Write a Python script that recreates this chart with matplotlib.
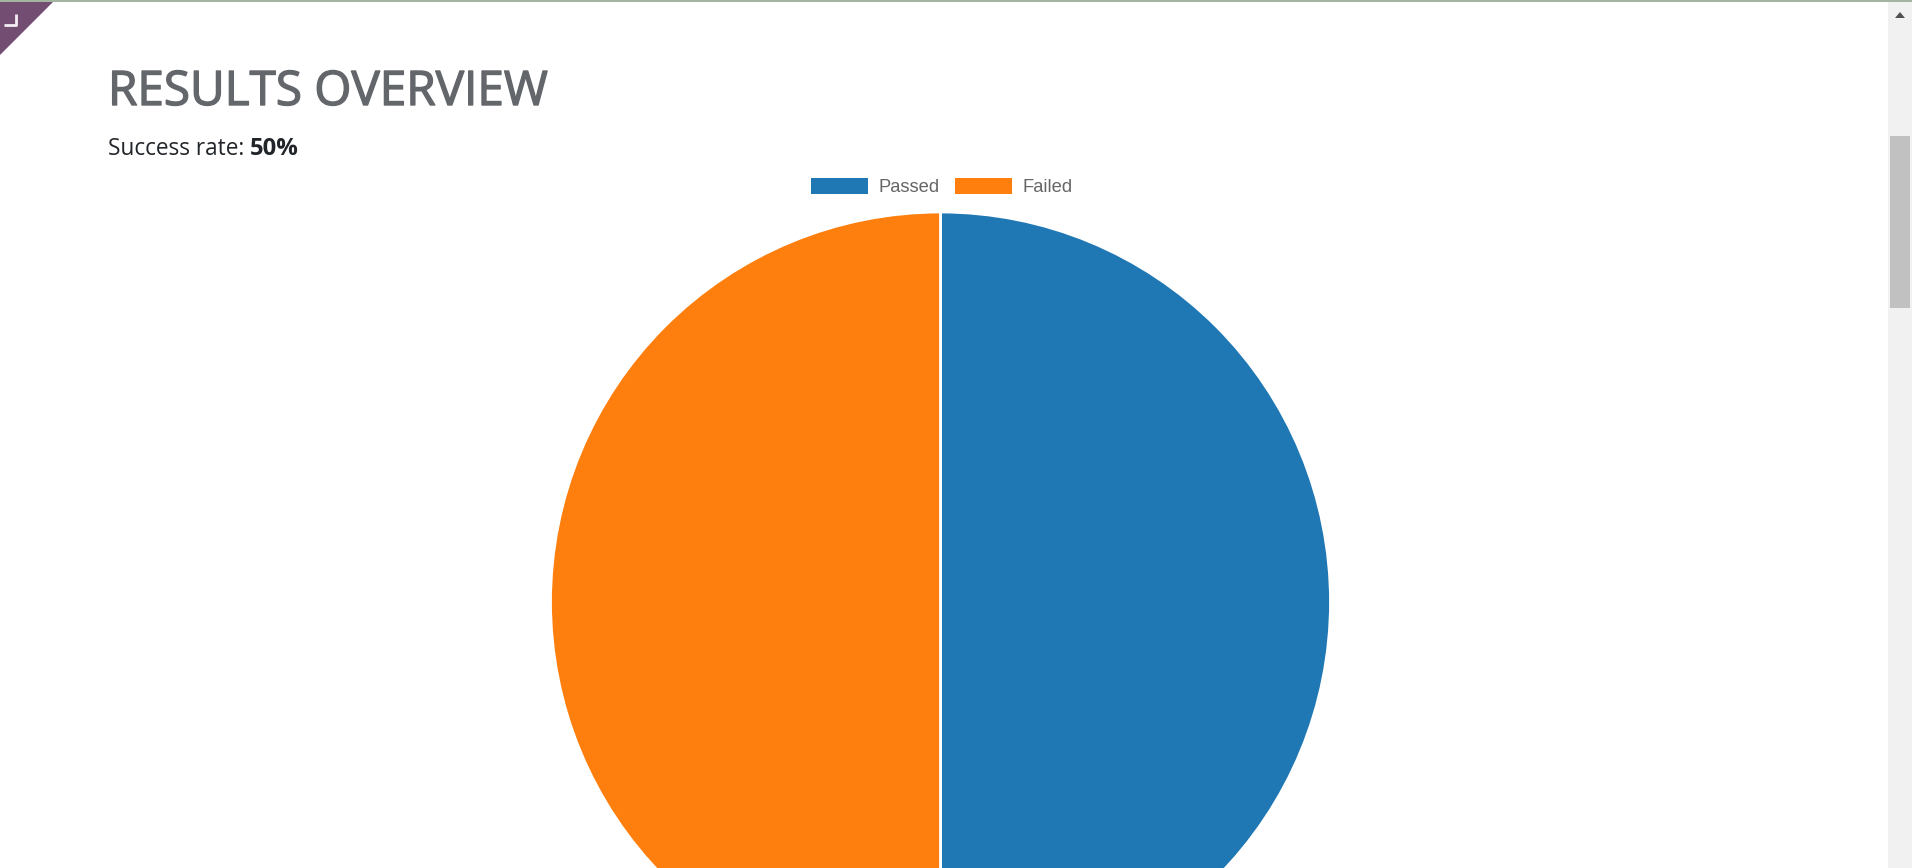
import matplotlib
matplotlib.use("Agg")
import matplotlib.pyplot as plt
import matplotlib.patheffects as pe
from matplotlib.patches import Polygon, Rectangle

labels = ["Passed", "Failed"]
results = [1, 1]
colors = ["#1f77b4", "#ff7f0e"]
title = "RESULTS OVERVIEW"
rate_label = "Success rate:"
rate_value = "50%"

W, H = 1912, 868
fig = plt.figure(figsize=(W / 100, H / 100), dpi=100, facecolor="white")

# page layer in pixel coordinates, y going down like the screenshot
page = fig.add_axes([0, 0, 1, 1], zorder=2)
page.set_xlim(0, W)
page.set_ylim(H, 0)
page.axis("off")

# pie runs off the bottom of the page
cx, cy, r = 940.5, 602, 390
pie_ax = fig.add_axes([(cx - r) / W, (H - cy - r) / H, 2 * r / W, 2 * r / H], zorder=1)
pie_ax.pie(results, colors=colors, startangle=90, counterclock=False, radius=1,
           wedgeprops={"edgecolor": "white", "linewidth": 2.0})
pie_ax.set_xlim(-1, 1)
pie_ax.set_ylim(-1, 1)

# title and success rate
# Open Sans regular is thinner than the page font, so thicken the title a bit
page.text(108, 105, title, fontfamily="Open Sans", fontsize=34.3, color="#63666a", va="baseline",
          path_effects=[pe.withStroke(linewidth=1.0, foreground="#63666a")])
page.text(108, 155, rate_label, fontfamily="Open Sans", fontsize=16.3, color="#212529", va="baseline")
page.text(249.5, 155, rate_value, fontfamily="Open Sans", fontsize=17.2, fontweight="bold",
          color="#212529", va="baseline")

# legend, drawn the way chart.js lays it out
box_x = [811, 955]
text_x = [878.5, 1023]
for i, lab in enumerate(labels):
    page.add_patch(Rectangle((box_x[i], 178), 57, 15.5, facecolor=colors[i], edgecolor="none"))
    page.text(text_x[i], 187, lab, fontfamily="Liberation Sans", fontsize=13.2,
              color="#666666", va="center")

# browser bits: top line, corner ribbon, scrollbar
page.add_patch(Rectangle((0, 0), W, 2, facecolor="#a3b5a0", edgecolor="none"))
page.add_patch(Polygon([(0, 2), (53, 2), (0, 55)], facecolor="#744e72", edgecolor="none"))
page.plot([4, 16, 16], [25, 25, 14], color="#f4eef4", lw=2, solid_capstyle="butt")
page.add_patch(Rectangle((1888, 2), 24, H, facecolor="#f1f1f1", edgecolor="none"))
page.add_patch(Rectangle((1890, 136), 20, 172, facecolor="#c1c1c1", edgecolor="none"))
page.add_patch(Polygon([(1895, 18), (1905, 18), (1900, 12)], facecolor="#505050", edgecolor="none"))

fig.savefig("out.png", dpi=100, facecolor="white")
